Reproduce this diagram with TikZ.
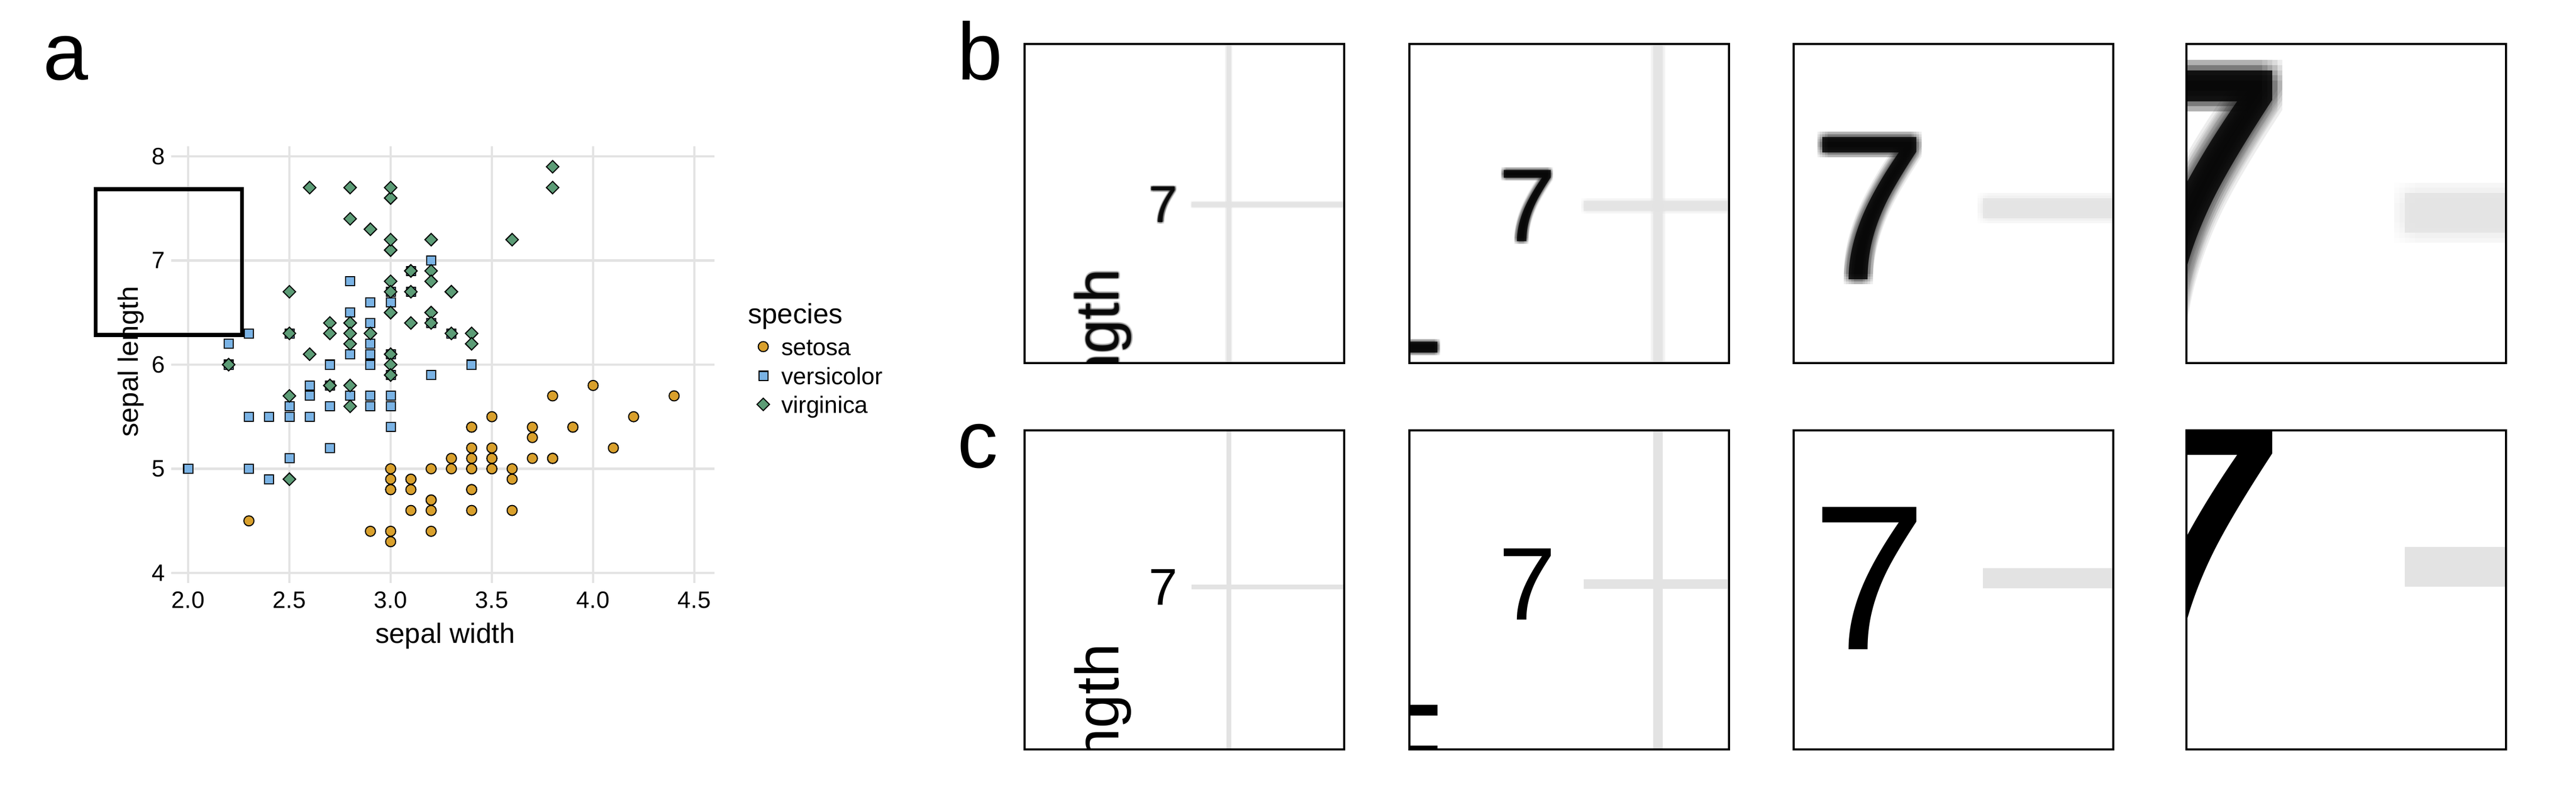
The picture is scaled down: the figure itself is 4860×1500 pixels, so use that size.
\documentclass[tikz,border=0pt]{standalone}
\usepackage{fontspec}
\setmainfont{Liberation Sans}
\usetikzlibrary{shapes.geometric}

\definecolor{setosacol}{HTML}{D9A02C}
\definecolor{versicol}{HTML}{7AB3E5}
\definecolor{virgcol}{HTML}{5C9C76}
\definecolor{gridcol}{HTML}{E3E3E3}

% what sits inside the framed region of the scatter plot (plot pixels)
\newcommand{\zoomsrc}[1]{%
  \fill[gridcol] (323,489.35) rectangle (1348,493.65);
  \fill[gridcol] (352.85,276) rectangle (357.15,1100);
  \node[ticklab,anchor=east] (z7) at (311,491.5) {7};
  \node[axislab,rotate=90,anchor=base] (zlen) at (260,{682.5+#1}) {sepal length};
}

\begin{document}
\begin{tikzpicture}[x=0.01cm,y=-0.01cm,
    every node/.style={inner sep=0pt,outer sep=0pt},
    ticklab/.style={font=\fontsize{12.7}{15}\selectfont},
    axislab/.style={font=\fontsize{15}{18}\selectfont},
    panellab/.style={font=\fontsize{43.5}{50}\selectfont,anchor=base west},
    grid/.style={draw=gridcol,line width=0.043cm},
    setosa/.style={circle,draw=black,fill=setosacol,line width=0.02cm,minimum size=0.19cm},
    versicolor/.style={rectangle,draw=black,fill=versicol,line width=0.02cm,minimum size=0.17cm},
    virginica/.style={diamond,draw=black,fill=virgcol,line width=0.02cm,minimum size=0.235cm},
    zoomframe/.style={draw=black,line width=0.033cm}]
\useasboundingbox (0,0) rectangle (4860,1500);

% panel labels
\node[panellab] (lab-a) at (81.5,151) {a};
\node[panellab] (lab-b) at (1806,151) {b};
\node[panellab] (lab-c) at (1806,882) {c};

% grid
\foreach \t in {4,5,6,7,8}
  \draw[grid] (323,{295+196.5*(8-\t)}) -- (1348,{295+196.5*(8-\t)});
\foreach \t in {0,1,2,3,4,5}
  \draw[grid] ({355+191*\t},276) -- ({355+191*\t},1100);

% tick labels
\foreach \t in {4,5,6,7,8}
  \node[ticklab,anchor=east] (y\t) at (311,{295+196.5*(8-\t)}) {\t};
\foreach \t/\s [count=\i from 0] in {2.0/20,2.5/25,3.0/30,3.5/35,4.0/40,4.5/45}
  \node[ticklab,anchor=base] (x\s) at ({355+191*\i},1147) {\t};

% axis titles
\node[axislab,anchor=base] (xtitle) at (840,1213) {sepal width};
\node[axislab,rotate=90,anchor=base] (ytitle) at (260,682.5) {sepal length};

% data
\foreach \w/\l [count=\i] in {3.5/5.1,3.0/4.9,3.2/4.7,3.1/4.6,3.6/5.0,3.9/5.4,3.4/4.6,3.4/5.0,2.9/4.4,3.1/4.9,
    3.7/5.4,3.4/4.8,3.0/4.8,3.0/4.3,4.0/5.8,4.4/5.7,3.9/5.4,3.5/5.1,3.8/5.7,3.8/5.1,
    3.4/5.4,3.7/5.1,3.6/4.6,3.3/5.1,3.4/4.8,3.0/5.0,3.4/5.0,3.5/5.2,3.4/5.2,3.2/4.7,
    3.1/4.8,3.4/5.4,4.1/5.2,4.2/5.5,3.1/4.9,3.2/5.0,3.5/5.5,3.6/4.9,3.0/4.4,3.4/5.1,
    3.5/5.0,2.3/4.5,3.2/4.4,3.5/5.0,3.8/5.1,3.0/4.8,3.8/5.1,3.2/4.6,3.7/5.3,3.3/5.0}
  \node[setosa] (set\i) at ({355+382*(\w-2)},{295+196.5*(8-\l)}) {};
\foreach \w/\l [count=\i] in {3.2/7.0,3.2/6.4,3.1/6.9,2.3/5.5,2.8/6.5,2.8/5.7,3.3/6.3,2.4/4.9,2.9/6.6,2.7/5.2,
    2.0/5.0,3.0/5.9,2.2/6.0,2.9/6.1,2.9/5.6,3.1/6.7,3.0/5.6,2.7/5.8,2.2/6.2,2.5/5.6,
    3.2/5.9,2.8/6.1,2.5/6.3,2.8/6.1,2.9/6.4,3.0/6.6,2.8/6.8,3.0/6.7,2.9/6.0,2.6/5.7,
    2.4/5.5,2.4/5.5,2.7/5.8,2.7/6.0,3.0/5.4,3.4/6.0,3.1/6.7,2.3/6.3,3.0/5.6,2.5/5.5,
    2.6/5.5,3.0/6.1,2.6/5.8,2.3/5.0,2.7/5.6,3.0/5.7,2.9/5.7,2.9/6.2,2.5/5.1,2.8/5.7}
  \node[versicolor] (ver\i) at ({355+382*(\w-2)},{295+196.5*(8-\l)}) {};
\foreach \w/\l [count=\i] in {3.3/6.3,2.7/5.8,3.0/7.1,2.9/6.3,3.0/6.5,3.0/7.6,2.5/4.9,2.9/7.3,2.5/6.7,3.6/7.2,
    3.2/6.5,2.7/6.4,3.0/6.8,2.5/5.7,2.8/5.8,3.2/6.4,3.0/6.5,3.8/7.7,2.6/7.7,2.2/6.0,
    3.2/6.9,2.8/5.6,2.8/7.7,2.7/6.3,3.3/6.7,3.2/7.2,2.8/6.2,3.0/6.1,2.8/6.4,3.0/7.2,
    2.8/7.4,3.8/7.9,2.8/6.4,2.8/6.3,2.6/6.1,3.0/7.7,3.4/6.3,3.1/6.4,3.0/6.0,3.1/6.9,
    3.1/6.7,3.1/6.9,2.7/5.8,3.2/6.8,3.3/6.7,3.0/6.7,2.5/6.3,3.0/6.5,3.4/6.2,3.0/5.9}
  \node[virginica] (vir\i) at ({355+382*(\w-2)},{295+196.5*(8-\l)}) {};

% framed region
\draw[line width=0.075cm] (180.5,357) rectangle (456.5,632);

% legend
\node[axislab,anchor=base west] (legtitle) at (1411,610) {species};
\node[setosa] (leg1) at (1440,654) {};
\node[versicolor] (leg2) at (1440,709) {};
\node[virginica] (leg3) at (1440,763) {};
\node[ticklab,anchor=base west] (legtxt1) at (1474,670.5) {setosa};
\node[ticklab,anchor=base west] (legtxt2) at (1474,725) {versicolor};
\node[ticklab,anchor=base west] (legtxt3) at (1474,779.5) {virginica};

% zoomed views: b bitmap (soft edges), c vector
\foreach \bx [count=\k] in {1933,2659,3384,4125} {
  \pgfmathsetmacro{\zf}{2.185*2^(\k-1)}
  \begin{scope}
    \clip (\bx,83) rectangle ++(603,602);
    \begin{scope}[shift={(\bx+301.5,384)},scale=\zf,shift={(-316.7,-490.5)},
        every node/.append style={transform shape}]
      \foreach \dx in {-2,-1,0,1,2}
        \foreach \dy in {-2,-1,0,1,2} {
          \begin{scope}[shift={(0.55*\dx,0.55*\dy)},opacity=0.07,text opacity=0.07]
            \zoomsrc{6.5}
          \end{scope}
        }
      \begin{scope}[opacity=0.8,text opacity=0.8]
        \zoomsrc{6.5}
      \end{scope}
    \end{scope}
  \end{scope}
  \draw[zoomframe] (\bx,83) rectangle ++(603,602);
  \begin{scope}
    \clip (\bx,812) rectangle ++(603,602);
    \begin{scope}[shift={(\bx+301.5,1113)},scale=\zf,shift={(-316.7,-494)},
        every node/.append style={transform shape}]
      \zoomsrc{0}
    \end{scope}
  \end{scope}
  \draw[zoomframe] (\bx,812) rectangle ++(603,602);
}
\end{tikzpicture}
\end{document}
